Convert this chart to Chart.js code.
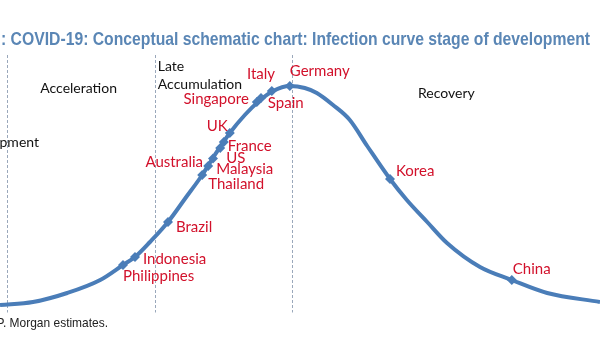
<!DOCTYPE html>
<html>
<head>
<meta charset="utf-8">
<script src="https://cdn.jsdelivr.net/npm/chart.js@4.4.1/dist/chart.umd.min.js"></script>
<style>
  html, body { margin: 0; padding: 0; background: #fff; }
  #wrap { position: relative; width: 600px; height: 346px; }
</style>
</head>
<body>
<div id="wrap"><canvas id="curveChart"></canvas></div>
<script>
// infection curve, sampled along the stroke (x = time, y = new cases, both on a 0-100 scale)
const curveX = [0, 5.5, 11.2, 16.7, 20.5, 22.5, 25, 28, 30.8, 33.7, 35.8, 38.3, 40.8, 43, 45.5, 48.3,
                50.8, 52.8, 55.5, 58.3, 61.2, 65, 67.8, 71.2, 74.5, 80, 85.3, 91.2, 100];
const curveY = [2, 3.2, 6.8, 12, 18, 21.2, 27.2, 35.2, 44.4, 54, 62, 70.8, 78, 83.2, 87.6, 89.6,
                88.8, 86.8, 82, 76, 65.6, 52.4, 44, 35.2, 26.8, 17.2, 12, 6.8, 3.2];

// where each country sits on the curve
const countries = ['Philippines', 'Indonesia', 'Brazil', 'Thailand', 'Malaysia', 'Australia', 'US',
                   'France', 'UK', 'Singapore', 'Italy', 'Spain', 'Germany', 'Korea', 'China'];
const countryX = [20.5, 22.5, 28, 33.7, 34.7, 35.5, 36.7, 37.3, 38.3, 42.8, 43.5, 45.3, 48.3, 65, 85.3];
const countryY = [18, 21.2, 35.2, 54, 57.6, 60.6, 64.8, 67.2, 70.8, 83.2, 84.8, 87.6, 89.6, 52.4, 12];

// stage boundaries and stage names
const stageBreaks = [1.2, 25.8, 48.7];
const stageNames = ['Development', 'Acceleration', 'Late', 'Accumulation', 'Recovery'];

const titleText = ': COVID-19: Conceptual schematic chart: Infection curve stage of development';
const sourceText = 'Source: J.P. Morgan estimates.';

const blue = '#4a7db8';
const red = '#d2112b';

// label anchor relative to the marker: [align, dx, dy] in pixels
const labelOffsets = {
  Philippines: ['left', 0, 11],
  Indonesia: ['left', 8, 2],
  Brazil: ['left', 8, 5],
  Thailand: ['left', 6, 9],
  Malaysia: ['left', 8, 3],
  Australia: ['right', -10, 4],
  US: ['left', 6, 10],
  France: ['left', 4, 4],
  UK: ['right', -2, -7],
  Singapore: ['right', -8, -3],
  Italy: ['left', -14, -24],
  Spain: ['left', -4, 12],
  Germany: ['left', 0, -15],
  Korea: ['left', 6, -8],
  China: ['left', 1, -11]
};

// stage text: [data x, data y, align]
const stagePlacement = [
  [6.5, 67.2, 'right'],
  [13.1, 88.8, 'center'],
  [26.3, 97.6, 'left'],
  [26.3, 90.4, 'left'],
  [74.4, 86.8, 'center']
];

// draw text squeezed horizontally by factor k (narrow face stand-in)
function squeezedText(ctx, text, x, y, k, align) {
  ctx.save();
  ctx.translate(x, y);
  ctx.scale(k, 1);
  ctx.textAlign = align;
  ctx.fillText(text, 0, 0);
  ctx.restore();
}

const overlay = {
  id: 'overlay',
  beforeDatasetsDraw(chart) {
    const { ctx, scales: { x, y } } = chart;
    ctx.save();
    ctx.strokeStyle = '#9aa8bb';
    ctx.lineWidth = 1;
    ctx.setLineDash([3, 2]);
    stageBreaks.forEach(v => {
      const px = Math.round(x.getPixelForValue(v)) + 0.5;
      ctx.beginPath();
      ctx.moveTo(px, y.getPixelForValue(102));
      ctx.lineTo(px, y.getPixelForValue(-1));
      ctx.stroke();
    });
    ctx.restore();
  },
  afterDatasetsDraw(chart) {
    const { ctx, scales: { x, y } } = chart;
    ctx.save();
    ctx.textBaseline = 'middle';

    // title + source
    ctx.fillStyle = '#5a86b5';
    ctx.font = 'bold 19px "Liberation Sans", Arial, sans-serif';
    const tw = ctx.measureText(titleText).width;
    squeezedText(ctx, titleText, 1, 40, Math.min(1, 589 / tw), 'left');
    ctx.fillStyle = '#222';
    ctx.font = '13px "Liberation Sans", Arial, sans-serif';
    squeezedText(ctx, sourceText, 108, 323, 0.92, 'right');

    // stages
    ctx.fillStyle = '#111';
    ctx.font = '14px Lato, "Open Sans", sans-serif';
    stageNames.forEach((name, i) => {
      const [sx, sy, align] = stagePlacement[i];
      ctx.textAlign = align;
      ctx.fillText(name, x.getPixelForValue(sx), y.getPixelForValue(sy));
    });

    // country names
    ctx.fillStyle = red;
    ctx.font = '15px Lato, "Open Sans", sans-serif';
    countries.forEach((name, i) => {
      const [align, dx, dy] = labelOffsets[name];
      ctx.textAlign = align;
      ctx.fillText(name, x.getPixelForValue(countryX[i]) + dx, y.getPixelForValue(countryY[i]) + dy);
    });
    ctx.restore();
  }
};

new Chart(document.getElementById('curveChart'), {
  type: 'line',
  data: {
    datasets: [{
      label: 'Countries',
      data: countryX.map((v, i) => ({ x: v, y: countryY[i] })),
      showLine: false,
      pointStyle: 'rectRot',
      pointRadius: 5,
      backgroundColor: blue,
      borderColor: blue,
      borderWidth: 0,
      order: 0
    }, {
      label: 'Infection curve',
      data: curveX.map((v, i) => ({ x: v, y: curveY[i] })),
      borderColor: blue,
      borderWidth: 4,
      pointRadius: 0,
      cubicInterpolationMode: 'monotone',
      fill: false,
      order: 1
    }]
  },
  options: {
    responsive: true,
    maintainAspectRatio: false,
    animation: false,
    layout: { autoPadding: false, padding: { top: 60, bottom: 36, left: 0, right: 0 } },
    plugins: {
      legend: { display: false },
      tooltip: { enabled: false },
      title: { display: false }
    },
    scales: {
      x: { type: 'linear', min: 0, max: 100, display: false },
      y: { min: 0, max: 100, display: false }
    }
  },
  plugins: [overlay]
});
</script>
</body>
</html>
